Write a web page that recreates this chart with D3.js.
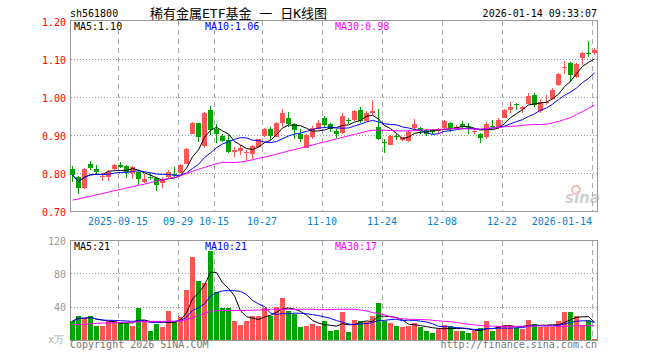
<!DOCTYPE html>
<html>
<head>
<meta charset="utf-8">
<script src="https://cdn.jsdelivr.net/npm/d3@7"></script>
<style>
body{margin:0;background:#fff}
svg{display:block}
text{font-family:"DejaVu Sans Mono",monospace;font-size:10px}
</style>
</head>
<body>
<svg width="660" height="360"></svg>
<script>
var dates = ["2025-09-03","2025-09-04","2025-09-05","2025-09-08","2025-09-09","2025-09-10","2025-09-11","2025-09-12","2025-09-15","2025-09-16",
	"2025-09-17","2025-09-18","2025-09-19","2025-09-22","2025-09-23","2025-09-24","2025-09-25","2025-09-26","2025-09-29","2025-09-30",
	"2025-10-09","2025-10-10","2025-10-13","2025-10-14","2025-10-15","2025-10-16","2025-10-17","2025-10-20","2025-10-21","2025-10-22",
	"2025-10-23","2025-10-24","2025-10-27","2025-10-28","2025-10-29","2025-10-30","2025-10-31","2025-11-03","2025-11-04","2025-11-05",
	"2025-11-06","2025-11-07","2025-11-10","2025-11-11","2025-11-12","2025-11-13","2025-11-14","2025-11-17","2025-11-18","2025-11-19",
	"2025-11-20","2025-11-21","2025-11-24","2025-11-25","2025-11-26","2025-11-27","2025-11-28","2025-12-01","2025-12-02","2025-12-03",
	"2025-12-04","2025-12-05","2025-12-08","2025-12-09","2025-12-10","2025-12-11","2025-12-12","2025-12-15","2025-12-16","2025-12-17",
	"2025-12-18","2025-12-19","2025-12-22","2025-12-23","2025-12-24","2025-12-25","2025-12-26","2025-12-29","2025-12-30","2025-12-31",
	"2026-01-05","2026-01-06","2026-01-07","2026-01-08","2026-01-09","2026-01-12","2026-01-13","2026-01-14"];

var open = [.811,.791,.762,.824,.811,.790,.791,.811,.822,.819, .802,.804,.778,.792,.787,.774,.791,.798,.802,.826,
	.905,.932,.872,.967,.917,.898,.888,.857,.860,.854, .851,.870,.899,.917,.896,.934,.947,.929,.903,.868,
	.895,.917,.945,.929,.912,.907,.940,.940,.967,.938, .958,.923,.882,.876,.899,.888,.886,.921,.921,.914,
	.914,.911,.921,.934,.918,.929,.922,.910,.905,.895, .924,.921,.947,.967,.984,.969,.984,1.006,.964,.987,
	.997,1.032,1.079,1.092,1.054,1.104,1.117,1.117];
var high = [.819,.794,.815,.832,.822,.800,.809,.825,.830,.822, .819,.809,.798,.800,.791,.791,.809,.818,.824,.866,
	.936,.933,.962,.977,.929,.904,.901,.870,.875,.861, .875,.892,.920,.923,.936,.971,.962,.932,.918,.905,
	.925,.940,.951,.932,.918,.958,.946,.968,.975,.965, .993,.971,.892,.901,.905,.897,.914,.943,.923,.916,
	.918,.921,.942,.936,.927,.939,.933,.917,.907,.936, .942,.947,.970,.988,.986,.977,1.011,1.013,.995,1.006,
	1.024,1.065,1.096,1.094,1.091,1.120,1.148,1.129];
var low = [.778,.747,.760,.809,.796,.781,.781,.809,.815,.787, .785,.771,.775,.783,.754,.762,.787,.791,.800,.824,
	.903,.883,.868,.901,.879,.883,.854,.844,.848,.835, .839,.866,.896,.888,.895,.923,.923,.892,.883,.866,
	.892,.914,.921,.910,.894,.905,.929,.939,.933,.935, .954,.888,.854,.875,.888,.886,.883,.914,.905,.898,
	.905,.905,.918,.910,.916,.917,.905,.905,.881,.892, .921,.918,.945,.958,.967,.958,.983,.974,.958,.980,
	.993,1.030,1.063,1.041,1.050,1.085,1.107,1.111];
var close = [.796,.762,.813,.815,.803,.794,.804,.822,.817,.804, .817,.785,.785,.788,.769,.785,.804,.795,.822,.864,
	.934,.896,.960,.914,.904,.886,.857,.861,.868,.857, .873,.890,.917,.899,.934,.958,.930,.914,.892,.901,
	.921,.932,.927,.918,.905,.951,.938,.965,.939,.960, .964,.890,.879,.898,.897,.895,.910,.929,.911,.905,
	.910,.916,.939,.916,.923,.923,.920,.912,.894,.929, .922,.942,.967,.975,.982,.974,1.004,.980,.989,.989,
	1.021,1.063,1.081,1.059,1.089,1.118,1.115,1.126];

// volume, 万
var volume = [23.2,30,27.2,30,18,18,23.2,23.2,20.8,20.8, 18,39.6,23.2,12,20,16.8,36,23.2,28.8,61.2,
	100,72,69.6,108,58,38.8,38.8,23.2,19.2,23.2, 30,30,38.8,29.2,40.8,50.8,35.2,32,16,18,
	20,18,23.2,12,13.2,34.8,10.8,25.2,24,22.8, 30,44.8,24,21.6,18,16,18,21.2,16,12,
	9.6,13.6,19.2,18,11.2,11.2,9.6,11.2,15.6,23.2, 11.2,18,19.2,18,15.2,13.6,25.2,20.4,16.8,16,
	16,24,34.8,34,30,19.2,24.8,1.6];

// MA30 lines (they reach back before the first day)
var ma30 = [.730,.733,.737,.740,.744,.747,.751,.755,.758,.762, .765,.769,.772,.776,.780,.783,.787,.790,.794,.800,
	.806,.811,.816,.821,.826,.829,.829,.829,.830,.833, .836,.840,.843,.847,.851,.855,.859,.863,.867,.871,
	.875,.879,.883,.887,.891,.895,.899,.903,.907,.911, .914,.914,.914,.913,.912,.912,.912,.913,.914,.915,
	.915,.916,.917,.918,.918,.918,.917,.917,.917,.918, .920,.921,.923,.924,.925,.927,.928,.929,.929,.930,
	.933,.937,.942,.947,.955,.963,.971,.980];
var vma30 = [19,19,19.5,20,20.5,21,21,21.5,21.5,22, 22,22.5,22.5,23,23,23,23,23,23.5,25,
	27.5,30,32.5,35,36,36,36,36,36,36, 36.5,36.5,37,37.5,37.5,37.5,37.5,37.5,37.5,37.5,
	37.5,37,37,37,37.5,37.5,37.5,37.5,36.5,35.5, 33.5,32.5,31,28.5,27,26,25.5,25.3,25.2,24.9,
	24.2,23.6,23,22.6,21.6,20.5,19.5,18.8,18,17.5, 17.2,17,17,17,17,17,17.2,17.4,17.5,17.5,
	17.4,17,17.1,17.4,17.6,17.7,17.8,17.6];

var priceTicks = [0.7, 0.8, 0.9, 1.0, 1.1, 1.2];
var volTicks = [0, 40, 80, 120];
var tickDates = ["2025-09-15","2025-09-29","2025-10-15","2025-10-27","2025-11-10","2025-11-24","2025-12-08","2025-12-22","2026-01-14"];
var tickLabels = ["2025-09-15","09-29","10-15","10-27","11-10","11-24","12-08","12-22","2026-01-14"];
var maNames = ["MA5","MA10","MA30"];
var maValues = ["1.10","1.06","0.98"];
var vmaValues = ["21","21","17"];

var red = "#ff5555", green = "#00a400", grid = "#aaaaaa";
var maColors = ["#000000", "#0000ff", "#ff00ff"];

function movingAvg(arr, n) {
	return arr.map(function(d, i) {
		return d3.mean(arr.slice(Math.max(0, i - n + 1), i + 1));
	});
}

var svg = d3.select("svg");

var x = d3.scaleBand().domain(dates).range([70, 598]);
var y = d3.scaleLinear().domain([0.7, 1.2]).range([211.5, 21.5]);
var yv = d3.scaleLinear().domain([0, 120]).range([340.5, 240.5]);

var idx = d3.range(dates.length);
function up(i) { return close[i] >= open[i]; }

// header
svg.append("text").attr("x", 70).attr("y", 17).text("sh561800");
svg.append("text").attr("x", 150).attr("y", 17.5)
	.style("font-family", "'DejaVu Sans Mono','Noto Sans CJK SC'").style("font-size", "13px")
	.style("white-space", "pre")
	.text("稀有金属ETF基金 一 日K线图");
svg.append("text").attr("x", 597).attr("y", 17).attr("text-anchor", "end").text("2026-01-14 09:33:07");

// grids
var g = svg.append("g").attr("shape-rendering", "crispEdges");

[[20.5, 211.5], [240.5, 340.5]].forEach(function(r) {
	g.selectAll(null).data(tickDates).enter().append("line")
		.attr("x1", function(d) { return x(d) + 0.5; })
		.attr("x2", function(d) { return x(d) + 0.5; })
		.attr("y1", r[0]).attr("y2", r[1])
		.attr("stroke", grid).attr("stroke-dasharray", "5,4");
});

g.selectAll(null).data(priceTicks.slice(1, -1)).enter().append("line")
	.attr("x1", 71).attr("x2", 597)
	.attr("y1", function(d) { return Math.floor(y(d)) + 0.5; })
	.attr("y2", function(d) { return Math.floor(y(d)) + 0.5; })
	.attr("stroke", "#999").attr("stroke-dasharray", "1,2");

g.selectAll(null).data(volTicks.slice(1, -1)).enter().append("line")
	.attr("x1", 71).attr("x2", 597)
	.attr("y1", function(d) { return Math.floor(yv(d)) + 0.5; })
	.attr("y2", function(d) { return Math.floor(yv(d)) + 0.5; })
	.attr("stroke", "#999").attr("stroke-dasharray", "1,2");

// frames
[[20.5, 211.5], [240.5, 340.5]].forEach(function(r) {
	g.append("rect")
		.attr("x", 70.5).attr("y", r[0])
		.attr("width", 527).attr("height", r[1] - r[0])
		.attr("fill", "none").attr("stroke", "#999");
});

// y labels
svg.selectAll(null).data(priceTicks).enter().append("text")
	.attr("x", 66).attr("y", function(d) { return y(d) + 4.5; })
	.attr("text-anchor", "end").attr("fill", "#ff0000")
	.text(function(d) { return d.toFixed(2); });

svg.selectAll(null).data(volTicks.slice(1)).enter().append("text")
	.attr("x", 66).attr("y", function(d) { return yv(d) + 4; })
	.attr("text-anchor", "end").attr("fill", "#999")
	.text(function(d) { return d; });
svg.append("text").attr("x", 64).attr("y", 343).attr("text-anchor", "end")
	.attr("fill", "#aaa").text("x万");

// x labels
svg.selectAll(null).data(tickDates).enter().append("text")
	.attr("x", function(d) { return x(d); })
	.attr("y", 225)
	.attr("text-anchor", function(d, i) { return i == tickDates.length - 1 ? "end" : "middle"; })
	.attr("fill", "#0a80d4")
	.text(function(d, i) { return tickLabels[i]; });

// sina watermark
var wm = svg.append("g").attr("opacity", 0.55);
wm.append("circle").attr("cx", 576).attr("cy", 190).attr("r", 4)
	.attr("fill", "none").attr("stroke", "#f08080").attr("stroke-width", 2);
wm.append("text").attr("x", 565).attr("y", 203)
	.style("font-family", "'DejaVu Sans'").style("font-size", "15px")
	.style("font-weight", "bold").style("font-style", "italic")
	.attr("fill", "#aaa").text("sina");

// candles
var c = svg.append("g").attr("shape-rendering", "crispEdges");
c.selectAll(".wick").data(idx).enter().append("rect")
	.attr("x", function(i) { return x(dates[i]) + 2; })
	.attr("width", 1)
	.attr("y", function(i) { return Math.round(y(high[i])); })
	.attr("height", function(i) { return Math.max(1, Math.round(y(low[i])) - Math.round(y(high[i]))); })
	.attr("fill", function(i) { return up(i) ? red : green; });
c.selectAll(".body").data(idx).enter().append("rect")
	.attr("x", function(i) { return x(dates[i]); })
	.attr("width", 5)
	.attr("y", function(i) { return Math.round(y(Math.max(open[i], close[i]))); })
	.attr("height", function(i) {
		return Math.max(1, Math.round(y(Math.min(open[i], close[i]))) - Math.round(y(Math.max(open[i], close[i]))));
	})
	.attr("fill", function(i) { return up(i) ? red : green; });

// volume bars
c.selectAll(".vol").data(idx).enter().append("rect")
	.attr("x", function(i) { return x(dates[i]); })
	.attr("width", 5)
	.attr("y", function(i) { return Math.round(yv(volume[i])); })
	.attr("height", function(i) { return 340 - Math.round(yv(volume[i])); })
	.attr("fill", function(i) { return up(i) ? red : green; });

// moving averages
var priceMA = [movingAvg(close, 5), movingAvg(close, 10), ma30];
var volMA = [movingAvg(volume, 5), movingAvg(volume, 10), vma30];

function drawLines(series, scale) {
	var line = d3.line()
		.x(function(d, i) { return x(dates[i]) + 2.5; })
		.y(function(d) { return scale(d); });
	svg.append("g").selectAll("path").data(series).enter().append("path")
		.attr("d", line)
		.attr("fill", "none")
		.attr("stroke", function(d, i) { return maColors[i]; })
		.attr("stroke-width", 1);
}
drawLines(priceMA, y);
drawLines(volMA, yv);

// legends
var legX = [74, 205, 335];
svg.selectAll(null).data(maNames).enter().append("text")
	.attr("x", function(d, i) { return legX[i]; }).attr("y", 30)
	.attr("fill", function(d, i) { return maColors[i]; })
	.text(function(d, i) { return d + ":" + maValues[i]; });
svg.selectAll(null).data(maNames).enter().append("text")
	.attr("x", function(d, i) { return legX[i]; }).attr("y", 249.5)
	.attr("fill", function(d, i) { return maColors[i]; })
	.text(function(d, i) { return d + ":" + vmaValues[i]; });

// footer
svg.append("text").attr("x", 70).attr("y", 348).attr("fill", "#777").text("Copyright 2026 SINA.COM");
svg.append("text").attr("x", 597).attr("y", 348).attr("text-anchor", "end").attr("fill", "#777")
	.text("http://finance.sina.com.cn");
</script>
</body>
</html>
